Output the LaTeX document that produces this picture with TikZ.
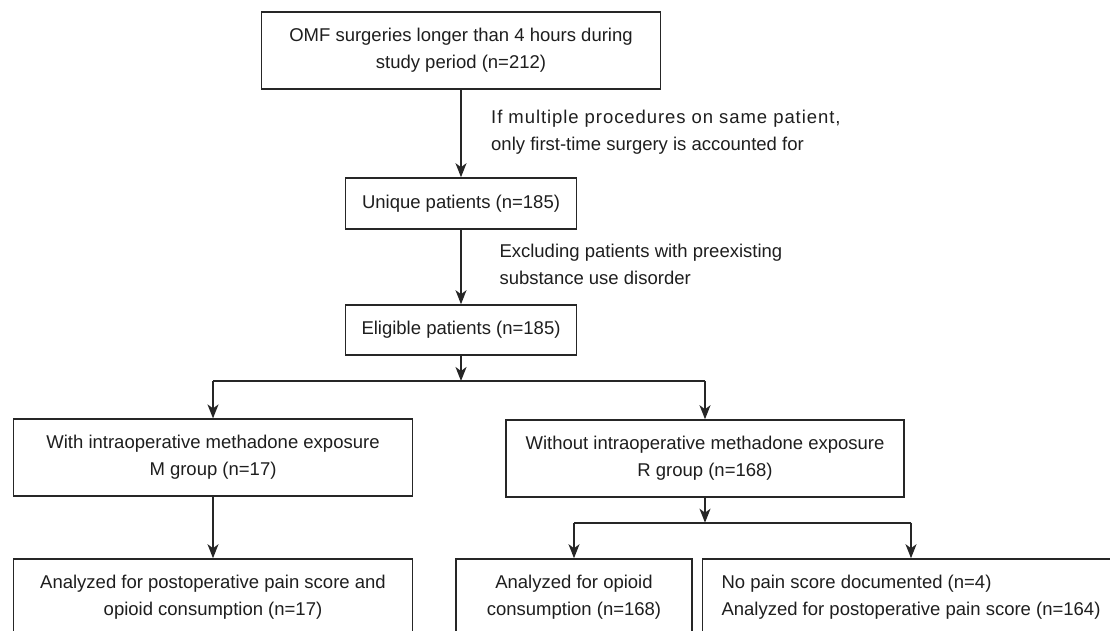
\documentclass[tikz,border=0pt]{standalone}
\usepackage{fontspec}
\setmainfont{Liberation Sans}
\newfontfamily\spacedfont[LetterSpace=5]{Liberation Sans}
\usetikzlibrary{arrows.meta}
\definecolor{linecol}{HTML}{262626}
\definecolor{textcol}{HTML}{1E1E1E}
\begin{document}
\begin{tikzpicture}[x=1pt,y=-1pt,
  box/.style={draw=linecol, line width=1.6pt, rectangle, inner sep=0pt, align=center, text=textcol, font=\fontsize{18.5}{27}\selectfont},
  conn/.style={draw=linecol, line width=1.6pt, -{Stealth[length=14pt,width=11pt,inset=4pt]}},
  branch/.style={draw=linecol, line width=1.6pt},
  lbl/.style={anchor=west, inner sep=0pt, align=left, text=textcol, font=\fontsize{18.5}{27}\selectfont}]
\useasboundingbox (0,0) rectangle (1110,631);
\clip (0,0) rectangle (1110,631);
\fill[white] (0,0) rectangle (1110,631);

\node[box, minimum width=399.3pt, minimum height=77pt] (b1) at (461,50.5) {OMF surgeries longer than 4 hours during\\study period (n=212)};
\node[box, minimum width=231pt, minimum height=51pt] (b2) at (461,203.5) {Unique patients (n=185)};
\node[box, minimum width=231pt, minimum height=50pt] (b3) at (461,330) {Eligible patients (n=185)};
\coordinate (j1) at (461,381);
\node[box, minimum width=398.7pt, minimum height=77pt] (m) at (213,457.7) {With intraoperative methadone exposure\\M group (n=17)};
\node[box, minimum width=398.4pt, minimum height=77pt] (r) at (705,458.5) {Without intraoperative methadone exposure\\R group (n=168)};
\node[box, minimum width=398.7pt, minimum height=77pt] (m2) at (213,597.5) {Analyzed for postoperative pain score and\\opioid consumption (n=17)};
\coordinate (j2) at (705,522.7);
\node[box, minimum width=235.7pt, minimum height=77pt] (ra) at (574,597.5) {Analyzed for opioid\\consumption (n=168)};
\node[box, minimum width=417.4pt, minimum height=77pt, align=left] (rb) at (911,597.5) {No pain score documented (n=4)\\Analyzed for postoperative pain score (n=164)};

\node[lbl] (l1) at (491,132) {{\spacedfont If multiple procedures on same patient,}\\only first-time surgery is accounted for};
\node[lbl] (l2) at (499.3,264) {Excluding patients with preexisting\\substance use disorder};

\draw[conn] (b1) -- (b2);
\draw[conn] (b2) -- (b3);
\draw[conn] (b3) -- (j1);
\draw[branch] (j1 -| m.north) -- (j1 -| r.north);
\draw[conn] (j1 -| m.north) -- (m.north);
\draw[conn] (j1 -| r.north) -- (r.north);
\draw[conn] (m) -- (m2);
\draw[conn] (r) -- (j2);
\draw[branch] (j2 -| ra.north) -- (j2 -| rb.north);
\draw[conn] (j2 -| ra.north) -- (ra);
\draw[conn] (j2 -| rb.north) -- (rb);
\end{tikzpicture}
\end{document}
